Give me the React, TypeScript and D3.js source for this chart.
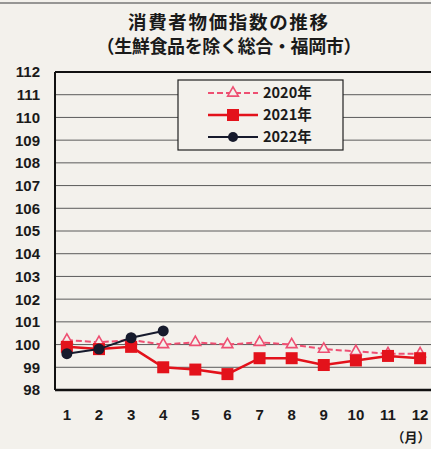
import React from 'react';
import * as d3 from 'd3';

const months = [1, 2, 3, 4, 5, 6, 7, 8, 9, 10, 11, 12];
const cpi2020 = [100.2, 100.1, 100.2, 100.0, 100.1, 100.0, 100.1, 100.0, 99.8, 99.7, 99.6, 99.6];
const cpi2021 = [99.9, 99.8, 99.9, 99.0, 98.9, 98.7, 99.4, 99.4, 99.1, 99.3, 99.5, 99.4];
const cpi2022 = [99.6, 99.8, 100.3, 100.6];
const yTicks = [98, 99, 100, 101, 102, 103, 104, 105, 106, 107, 108, 109, 110, 111, 112];
const legendLabels = ['2020年', '2021年', '2022年'];

const W = 431;
const H = 449;
const BG = '#f3f1ec';
const PINK = '#ee4f72';
const RED = '#e3121b';
const NAVY = '#161a2c';
const FONT = 'Liberation Sans, Arial, sans-serif';
const JFONT = '"Noto Sans CJK JP", sans-serif';

const plot = { left: 55, right: 433, top: 72, bottom: 390 };

const x = d3.scaleLinear().domain([0.63, 12.37]).range([plot.left, plot.right - 1]);
const y = d3.scaleLinear().domain([98, 112]).range([plot.bottom, plot.top]);

const line = d3.line<number>()
    .x((_, i) => x(months[i]))
    .y((d) => y(d));

const triPath = d3.symbol().type(d3.symbolTriangle).size(50)() as string;

const Legend: React.FC = () => {
    const rows = [93, 115, 137];
    return (
        <g>
            <rect x={178} y={80} width={165} height={70} fill={BG} stroke="#222" strokeWidth={1.2} />
            {/* 2020 */}
            <line x1={208} x2={258} y1={rows[0]} y2={rows[0]} stroke={PINK} strokeWidth={2} strokeDasharray="6,3" />
            <path d={triPath} transform={`translate(233,${rows[0]})`} fill={BG} stroke={PINK} strokeWidth={1.6} />
            {/* 2021 */}
            <line x1={208} x2={258} y1={rows[1]} y2={rows[1]} stroke={RED} strokeWidth={2.5} />
            <rect x={227} y={rows[1] - 6} width={12} height={12} fill={RED} />
            {/* 2022 */}
            <line x1={208} x2={258} y1={rows[2]} y2={rows[2]} stroke={NAVY} strokeWidth={2} />
            <circle cx={233} cy={rows[2]} r={5} fill={NAVY} />
            {legendLabels.map((t, i) => (
                <text key={t} x={263} y={rows[i]} dy="0.36em" fontFamily={JFONT} fontWeight={700} fontSize={14.5} fill="#1a1a1a">
                    {t}
                </text>
            ))}
        </g>
    );
};

export default function App() {
    return (
        <svg width={W} height={H} style={{ position: 'absolute', left: 0, top: 0 }}>
            <rect width={W} height={H} fill={BG} />
            <line x1={0} x2={W} y1={3} y2={3} stroke="#777" strokeWidth={1.5} />

            {/* title */}
            <text x={228} y={22} dy="0.36em" textAnchor="middle" fontFamily={JFONT} fontWeight={700} fontSize={18.5} fill="#1a1a1a" textLength={200}>
                消費者物価指数の推移
            </text>
            <text x={229} y={47} dy="0.36em" textAnchor="middle" fontFamily={JFONT} fontWeight={700} fontSize={18} fill="#1a1a1a" textLength={265}>
                （生鮮食品を除く総合・福岡市）
            </text>

            {/* gridlines */}
            {yTicks.slice(1, -1).map((t) => (
                <line key={t} x1={plot.left} x2={plot.right} y1={y(t)} y2={y(t)} stroke="#5a5a5a" strokeWidth={1} />
            ))}

            {/* frame */}
            <line x1={plot.left} x2={plot.right} y1={plot.top} y2={plot.top} stroke="#111" strokeWidth={2} />
            <line x1={plot.left} x2={plot.right} y1={plot.bottom} y2={plot.bottom} stroke="#111" strokeWidth={2.5} />
            <line x1={plot.left} x2={plot.left} y1={plot.top} y2={plot.bottom} stroke="#111" strokeWidth={2} />

            {/* y tick labels */}
            {yTicks.map((t) => (
                <text key={t} x={40} y={y(t)} dy="0.36em" textAnchor="end" fontFamily={FONT} fontWeight={700} fontSize={15} fill="#1a1a1a">
                    {t}
                </text>
            ))}

            {/* x tick labels */}
            {months.map((m) => (
                <text key={m} x={x(m)} y={415} dy="0.36em" textAnchor="middle" fontFamily={FONT} fontWeight={700} fontSize={15} fill="#1a1a1a">
                    {m}
                </text>
            ))}
            <text x={411} y={437} dy="0.36em" textAnchor="middle" fontFamily={JFONT} fontWeight={700} fontSize={13} fill="#1a1a1a">
                （月）
            </text>

            <Legend />

            {/* 2020 */}
            <path d={line(cpi2020) as string} fill="none" stroke={PINK} strokeWidth={2} strokeDasharray="6,3" />
            {cpi2020.map((v, i) => (
                <path key={i} d={triPath} transform={`translate(${x(months[i])},${y(v)})`} fill={BG} stroke={PINK} strokeWidth={1.6} />
            ))}

            {/* 2021 */}
            <path d={line(cpi2021) as string} fill="none" stroke={RED} strokeWidth={2.5} />
            {cpi2021.map((v, i) => (
                <rect key={i} x={x(months[i]) - 6} y={y(v) - 6} width={12} height={12} fill={RED} />
            ))}

            {/* 2022 */}
            <path d={line(cpi2022) as string} fill="none" stroke={NAVY} strokeWidth={2} />
            {cpi2022.map((v, i) => (
                <circle key={i} cx={x(months[i])} cy={y(v)} r={5.5} fill={NAVY} />
            ))}
        </svg>
    );
}
